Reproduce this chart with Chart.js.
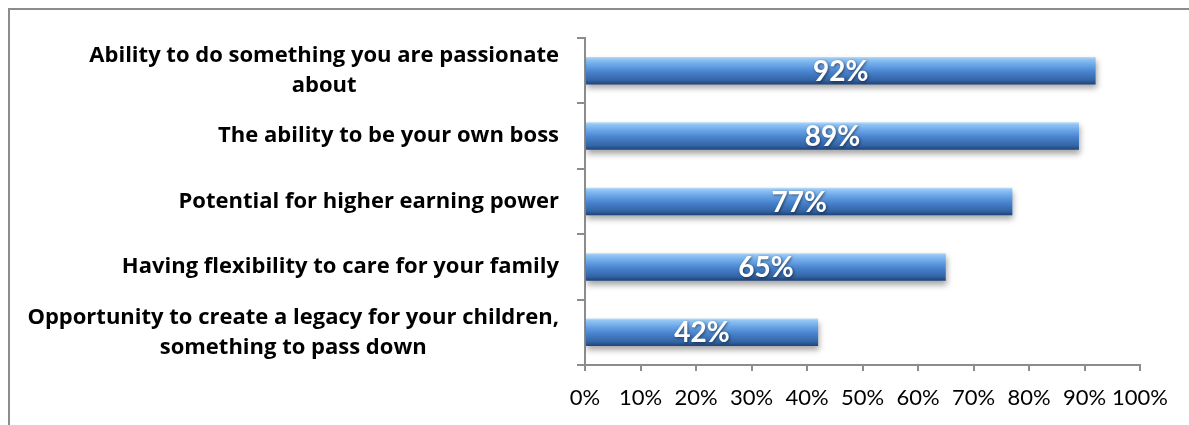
<!DOCTYPE html>
<html lang="en">
<head>
  <meta charset="UTF-8">
  <title>Reasons for starting a business</title>
  <script src="https://cdn.jsdelivr.net/npm/chart.js"></script>
  <style>
    body {
      margin: 0;
      background: #fff;
    }

    .wrap {
      position: relative;
      width: 1189px;
      height: 425px;
      overflow: hidden;
    }

    /* chart area frame, only the top and left edges show */
    .frame {
      position: absolute;
      left: 8px;
      top: 8px;
      width: 1300px;
      height: 500px;
      border-left: 2px solid #8c8c8c;
      border-top: 2px solid #8c8c8c;
    }

    canvas {
      position: absolute;
      left: 0;
      top: 0;
    }
  </style>
</head>
<body>

  <div class="wrap">
    <div class="frame"></div>
    <canvas id="reasonChart" width="1189" height="425"></canvas>
  </div>

  <script>
    // category labels (one entry per line), top to bottom
    const reasons = [
      ['Ability to do something you are passionate', 'about'],
      ['The ability to be your own boss'],
      ['Potential for higher earning power'],
      ['Having flexibility to care for your family'],
      ['Opportunity to create a legacy for your children,', 'something to pass down']
    ];
    const shares = [92, 89, 77, 65, 42];
    const axisMin = 0;
    const axisMax = 100;
    const axisStep = 10;

    const BAR_PCT = 0.42;
    const LABEL_FONT = 'bold 22px "Open Sans", Lato, sans-serif';

    // vertical gradient per bar, so each bar gets the same rounded look
    function barFill(c) {
      const chart = c.chart;
      const yScale = chart.scales.y;
      if (!yScale || c.dataIndex === undefined || !(yScale.height > 0)) return '#4a82c8';
      const mid = yScale.getPixelForValue(c.dataIndex);
      const half = yScale.height / reasons.length * BAR_PCT / 2;
      if (!isFinite(mid)) return '#4a82c8';
      const g = chart.ctx.createLinearGradient(0, mid - half, 0, mid + half);
      g.addColorStop(0, '#bcdcf8');
      g.addColorStop(0.08, '#90c4f3');
      g.addColorStop(0.3, '#68a4e6');
      g.addColorStop(0.55, '#4782cc');
      g.addColorStop(0.85, '#3364a5');
      g.addColorStop(1, '#1f4276');
      return g;
    }

    // soft drop shadow under the bars plus the white value labels
    const barDecor = {
      id: 'barDecor',
      beforeDatasetsDraw(chart) {
        const ctx = chart.ctx;
        ctx.save();
        ctx.shadowColor = 'rgba(0,0,0,0.35)';
        ctx.shadowBlur = 6;
        ctx.shadowOffsetX = 1;
        ctx.shadowOffsetY = 4;
      },
      afterDatasetsDraw(chart) {
        const ctx = chart.ctx;
        ctx.restore();
        const meta = chart.getDatasetMeta(0);
        ctx.save();
        ctx.font = 'bold 28px Lato, "Open Sans", sans-serif';
        ctx.textAlign = 'center';
        ctx.textBaseline = 'middle';
        ctx.fillStyle = '#fff';
        ctx.shadowColor = 'rgba(0,0,0,0.5)';
        ctx.shadowBlur = 3;
        ctx.shadowOffsetX = 1;
        ctx.shadowOffsetY = 1;
        meta.data.forEach((bar, i) => {
          const cx = (bar.base + bar.x) / 2;
          ctx.fillText(shares[i] + '%', cx, bar.y + 1);
        });
        ctx.restore();
      }
    };

    // category labels: block right-aligned to the axis, lines centred inside the block
    const reasonLabels = {
      id: 'reasonLabels',
      afterDraw(chart) {
        const ctx = chart.ctx;
        const yScale = chart.scales.y;
        const right = 559;
        const lineH = 30;
        ctx.save();
        ctx.font = LABEL_FONT;
        ctx.fillStyle = '#000';
        ctx.textAlign = 'center';
        ctx.textBaseline = 'middle';
        reasons.forEach((lines, i) => {
          const mid = yScale.getPixelForValue(i);
          const w = Math.max(...lines.map(l => ctx.measureText(l).width));
          const cx = right - w / 2;
          const top = mid - (lines.length - 1) * lineH / 2;
          lines.forEach((l, k) => ctx.fillText(l, cx, top + k * lineH));
        });
        ctx.restore();
      }
    };

    new Chart(document.getElementById('reasonChart'), {
      type: 'bar',
      data: {
        labels: reasons.map(r => r.join(' ')),
        datasets: [{
          data: shares,
          backgroundColor: barFill,
          borderWidth: 0,
          categoryPercentage: 1,
          barPercentage: BAR_PCT
        }]
      },
      options: {
        indexAxis: 'y',
        responsive: false,
        animation: false,
        layout: {
          padding: { top: 38, right: 49, left: 0, bottom: 0 }
        },
        scales: {
          x: {
            min: axisMin,
            max: axisMax,
            afterFit(scale) { scale.height = 60; },
            grid: {
              drawOnChartArea: false,
              drawTicks: true,
              tickLength: 6,
              color: '#8c8c8c',
              lineWidth: 2
            },
            border: { display: true, color: '#8c8c8c', width: 2 },
            ticks: {
              stepSize: axisStep,
              autoSkip: false,
              color: '#000',
              padding: 14,
              maxRotation: 0,
              font: { family: 'Lato, "Open Sans", sans-serif', size: 22 },
              callback: v => v + '%'
            }
          },
          y: {
            afterFit(scale) { scale.width = 585; },
            grid: {
              offset: true,
              drawOnChartArea: false,
              drawTicks: true,
              tickLength: 8,
              color: '#8c8c8c',
              lineWidth: 2
            },
            border: { display: true, color: '#8c8c8c', width: 2 },
            ticks: { display: false }
          }
        },
        plugins: {
          legend: { display: false },
          tooltip: { enabled: false }
        }
      },
      plugins: [barDecor, reasonLabels]
    });
  </script>

</body>
</html>
